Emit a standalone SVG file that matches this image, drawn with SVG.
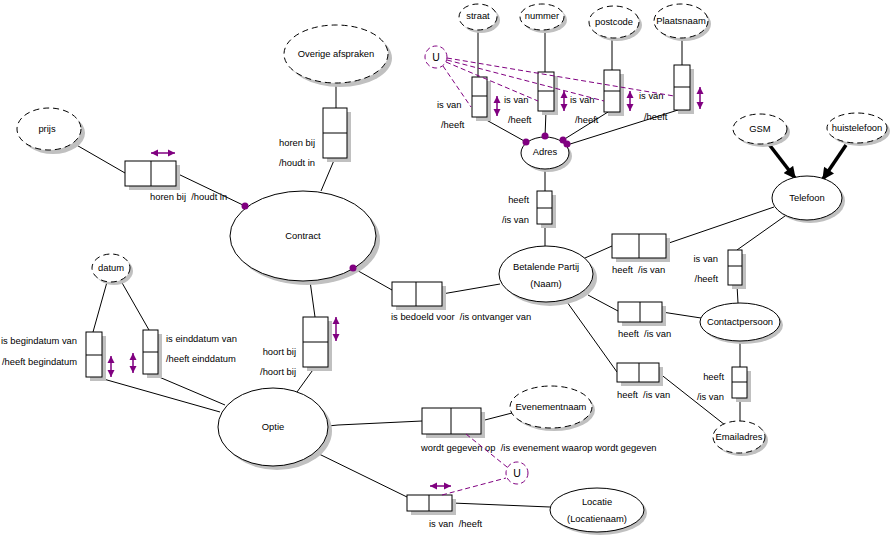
<svg xmlns="http://www.w3.org/2000/svg" width="894" height="540" viewBox="0 0 894 540">
<style>
.ent{fill:#fff;stroke:#000;stroke-width:1}
.val{fill:#fff;stroke:#000;stroke-width:1;stroke-dasharray:6 4}
.sh{fill:#c0c0c0;stroke:none}
.box{fill:#fff;stroke:#000;stroke-width:1}
.ln{stroke:#000;stroke-width:1;fill:none}
.t{font-family:"Liberation Sans",Arial,sans-serif;font-size:9.4px;fill:#000;white-space:pre}
.c{text-anchor:middle}
.e{text-anchor:end}
.pd{stroke:#800080;stroke-width:1;fill:none;stroke-dasharray:5 3}
.pa{stroke:#800080;stroke-width:1.5;marker-start:url(#pa);marker-end:url(#pa)}
.dot{fill:#800080}
.thick{stroke:#000;stroke-width:3.5;marker-end:url(#ta)}
</style>
<defs>
<marker id="pa" viewBox="0 0 10 10" refX="10" refY="5" markerUnits="userSpaceOnUse" markerWidth="7" markerHeight="8" orient="auto-start-reverse"><path d="M0,0 L10,5 L0,10 z" fill="#800080"/></marker>
<marker id="ta" viewBox="0 0 10 10" refX="9" refY="5" markerUnits="userSpaceOnUse" markerWidth="13" markerHeight="12" orient="auto"><path d="M0,0 L10,5 L0,10 z" fill="#000"/></marker>
</defs>
<rect width="894" height="540" fill="#fff"/>

<g id="connectors">
<line class="ln" x1="73" y1="143" x2="125" y2="173"/>
<line class="ln" x1="176" y1="173" x2="245" y2="206"/>
<line class="ln" x1="336" y1="83" x2="336" y2="108"/>
<line class="ln" x1="335" y1="158" x2="321" y2="191"/>
<line class="ln" x1="310" y1="281" x2="315" y2="317"/>
<line class="ln" x1="315" y1="367" x2="297" y2="392"/>
<line class="ln" x1="107" y1="282" x2="93" y2="332"/>
<line class="ln" x1="121" y1="281" x2="149" y2="330"/>
<line class="ln" x1="100" y1="378" x2="220" y2="412"/>
<line class="ln" x1="152" y1="374" x2="225" y2="405"/>
<line class="ln" x1="353" y1="268" x2="392" y2="290"/>
<line class="ln" x1="442" y1="294" x2="500" y2="284"/>
<line class="ln" x1="545" y1="169" x2="545" y2="191"/>
<line class="ln" x1="545" y1="224" x2="545" y2="246"/>
<line class="ln" x1="478" y1="30" x2="478" y2="77"/>
<line class="ln" x1="545" y1="30" x2="545" y2="72"/>
<line class="ln" x1="612" y1="38" x2="612" y2="70"/>
<line class="ln" x1="682" y1="38" x2="682" y2="65"/>
<line class="ln" x1="481" y1="117" x2="526" y2="142"/>
<line class="ln" x1="546" y1="111" x2="545" y2="137"/>
<line class="ln" x1="608" y1="112" x2="563" y2="140"/>
<line class="ln" x1="678" y1="110" x2="567" y2="145"/>
<line class="ln" x1="585" y1="258" x2="612" y2="246"/>
<line class="ln" x1="666" y1="244" x2="774" y2="207"/>
<line class="ln" x1="785" y1="216" x2="737" y2="250"/>
<line class="ln" x1="737" y1="285" x2="738" y2="303"/>
<line class="ln" x1="588" y1="295" x2="618" y2="311"/>
<line class="ln" x1="662" y1="312" x2="701" y2="318"/>
<line class="ln" x1="567" y1="302" x2="617" y2="372"/>
<line class="ln" x1="659" y1="373" x2="725" y2="425"/>
<line class="ln" x1="740" y1="341" x2="740" y2="367"/>
<line class="ln" x1="740" y1="398" x2="740" y2="421"/>
<polyline class="ln" points="328,426 338,425 422,421"/>
<line class="ln" x1="481" y1="421" x2="512" y2="413"/>
<line class="ln" x1="317" y1="453" x2="407" y2="497"/>
<line class="ln" x1="452" y1="503" x2="550" y2="507"/>
<line class="thick" x1="768" y1="143" x2="795" y2="178"/>
<line class="thick" x1="846" y1="145" x2="823" y2="179"/>
</g>

<g id="n-overige"><ellipse class="sh" cx="340" cy="58" rx="52" ry="29"/><ellipse class="val" cx="336" cy="54" rx="52" ry="29"/><text class="t c" x="336" y="57">Overige afspraken</text></g>
<g id="n-prijs"><ellipse class="sh" cx="53" cy="133" rx="32" ry="21"/><ellipse class="val" cx="49" cy="129" rx="32" ry="21"/><text class="t c" x="47" y="132">prijs</text></g>
<g id="n-contract"><ellipse class="sh" cx="307" cy="240" rx="73" ry="45"/><ellipse class="ent" cx="303" cy="236" rx="73" ry="45"/><text class="t c" x="303" y="239">Contract</text></g>
<g id="n-datum"><ellipse class="sh" cx="114" cy="271" rx="19" ry="14"/><ellipse class="val" cx="111" cy="268" rx="19" ry="14"/><text class="t c" x="111" y="271">datum</text></g>
<g id="n-optie"><ellipse class="sh" cx="277" cy="431" rx="55" ry="39"/><ellipse class="ent" cx="273" cy="427" rx="55" ry="39"/><text class="t c" x="273" y="430">Optie</text></g>
<g id="n-straat"><ellipse class="sh" cx="481" cy="20" rx="19" ry="13"/><ellipse class="val" cx="478" cy="17" rx="19" ry="13"/><text class="t c" x="478" y="19">straat</text></g>
<g id="n-nummer"><ellipse class="sh" cx="545" cy="20" rx="22" ry="13"/><ellipse class="val" cx="542" cy="17" rx="22" ry="13"/><text class="t c" x="542" y="19">nummer</text></g>
<g id="n-postcode"><ellipse class="sh" cx="617" cy="25" rx="25" ry="16"/><ellipse class="val" cx="614" cy="22" rx="25" ry="16"/><text class="t c" x="614" y="25">postcode</text></g>
<g id="n-plaatsnaam"><ellipse class="sh" cx="684" cy="24" rx="27" ry="17"/><ellipse class="val" cx="681" cy="21" rx="27" ry="17"/><text class="t c" x="681" y="24">Plaatsnaam</text></g>
<g id="n-adres"><ellipse class="sh" cx="548" cy="156" rx="24" ry="16"/><ellipse class="ent" cx="545" cy="153" rx="24" ry="16"/><text class="t c" x="545" y="155">Adres</text></g>
<g id="n-betalende"><ellipse class="sh" cx="550" cy="278" rx="47" ry="28"/><ellipse class="ent" cx="546" cy="274" rx="47" ry="28"/><text class="t c" x="546" y="270">Betalende Partij</text><text class="t c" x="546" y="287">(Naam)</text></g>
<g id="n-telefoon"><ellipse class="sh" cx="810" cy="201" rx="35" ry="22"/><ellipse class="ent" cx="807" cy="198" rx="35" ry="22"/><text class="t c" x="807" y="201">Telefoon</text></g>
<g id="n-gsm"><ellipse class="sh" cx="763" cy="132" rx="27" ry="15"/><ellipse class="val" cx="760" cy="129" rx="27" ry="15"/><text class="t c" x="760" y="132">GSM</text></g>
<g id="n-huistelefoon"><ellipse class="sh" cx="860" cy="131" rx="30" ry="15"/><ellipse class="val" cx="857" cy="128" rx="30" ry="15"/><text class="t c" x="857" y="131">huistelefoon</text></g>
<g id="n-contactpersoon"><ellipse class="sh" cx="743" cy="325" rx="40" ry="19"/><ellipse class="ent" cx="740" cy="322" rx="40" ry="19"/><text class="t c" x="740" y="325">Contactpersoon</text></g>
<g id="n-emailadres"><ellipse class="sh" cx="742" cy="440" rx="26" ry="16"/><ellipse class="val" cx="739" cy="437" rx="26" ry="16"/><text class="t c" x="739" y="440">Emailadres</text></g>
<g id="n-evenementnaam"><ellipse class="sh" cx="554" cy="410" rx="41" ry="21"/><ellipse class="val" cx="551" cy="407" rx="41" ry="21"/><text class="t c" x="551" y="410">Evenementnaam</text></g>
<g id="n-locatie"><ellipse class="sh" cx="600" cy="513" rx="47" ry="22"/><ellipse class="ent" cx="597" cy="510" rx="47" ry="22"/><text class="t c" x="597" y="505">Locatie</text><text class="t c" x="597" y="522">(Locatienaam)</text></g>

<g id="f-overige"><rect class="sh" x="327" y="112" width="24" height="50"/><rect class="box" x="323" y="108" width="24" height="50"/><line class="ln" x1="323" y1="133" x2="347" y2="133"/><text class="t" x="279" y="146">horen bij</text><text class="t" x="279" y="166">/houdt in</text></g>
<g id="f-prijs"><rect class="sh" x="129" y="165" width="51" height="25"/><rect class="box" x="125" y="161" width="51" height="25"/><line class="ln" x1="151" y1="161" x2="151" y2="186"/><text class="t" x="150" y="200" xml:space="preserve">horen bij  /houdt in</text></g>
<g id="f-hoortbij"><rect class="sh" x="307" y="321" width="25" height="50"/><rect class="box" x="303" y="317" width="25" height="50"/><line class="ln" x1="303" y1="342" x2="328" y2="342"/><text class="t e" x="296" y="355">hoort bij</text><text class="t e" x="296" y="375">/hoort bij</text></g>
<g id="f-begindatum"><rect class="sh" x="90" y="336" width="16" height="45"/><rect class="box" x="86" y="332" width="16" height="45"/><line class="ln" x1="86" y1="355" x2="102" y2="355"/><text class="t e" x="77" y="344">is begindatum van</text><text class="t e" x="77" y="365">/heeft begindatum</text></g>
<g id="f-einddatum"><rect class="sh" x="147" y="334" width="15" height="44"/><rect class="box" x="143" y="330" width="15" height="44"/><line class="ln" x1="143" y1="352" x2="158" y2="352"/><text class="t" x="166" y="342">is einddatum van</text><text class="t" x="166" y="362">/heeft einddatum</text></g>
<g id="f-straat"><rect class="sh" x="476" y="81" width="15" height="40"/><rect class="box" x="472" y="77" width="15" height="40"/><line class="ln" x1="472" y1="96" x2="487" y2="96"/><text class="t" x="437" y="108">is van</text><text class="t" x="441" y="128">/heeft</text></g>
<g id="f-nummer"><rect class="sh" x="542" y="76" width="16" height="39"/><rect class="box" x="538" y="72" width="16" height="39"/><line class="ln" x1="538" y1="91" x2="554" y2="91"/><text class="t" x="504" y="103">is van</text><text class="t" x="508" y="123">/heeft</text></g>
<g id="f-postcode"><rect class="sh" x="608" y="74" width="16" height="42"/><rect class="box" x="604" y="70" width="16" height="42"/><line class="ln" x1="604" y1="91" x2="620" y2="91"/><text class="t" x="570" y="103">is van</text><text class="t" x="575" y="123">/heeft</text></g>
<g id="f-plaatsnaam"><rect class="sh" x="678" y="69" width="16" height="45"/><rect class="box" x="674" y="65" width="16" height="45"/><line class="ln" x1="674" y1="87" x2="690" y2="87"/><text class="t" x="639" y="99">is van</text><text class="t" x="644" y="120">/heeft</text></g>
<g id="f-adres"><rect class="sh" x="541" y="195" width="15" height="33"/><rect class="box" x="537" y="191" width="15" height="33"/><line class="ln" x1="537" y1="208" x2="552" y2="208"/><text class="t e" x="529" y="203">heeft</text><text class="t e" x="529" y="223">/is van</text></g>
<g id="f-bedoeld"><rect class="sh" x="396" y="286" width="50" height="24"/><rect class="box" x="392" y="282" width="50" height="24"/><line class="ln" x1="416" y1="282" x2="416" y2="306"/><text class="t" x="391" y="320" xml:space="preserve">is bedoeld voor  /is ontvanger van</text></g>
<g id="f-telefoon"><rect class="sh" x="616" y="238" width="54" height="24"/><rect class="box" x="612" y="234" width="54" height="24"/><line class="ln" x1="639" y1="234" x2="639" y2="258"/><text class="t" x="612" y="273" xml:space="preserve">heeft  /is van</text></g>
<g id="f-telcontact"><rect class="sh" x="732" y="254" width="14" height="35"/><rect class="box" x="728" y="250" width="14" height="35"/><line class="ln" x1="728" y1="266" x2="742" y2="266"/><text class="t e" x="718" y="262">is van</text><text class="t e" x="718" y="282">/heeft</text></g>
<g id="f-contact"><rect class="sh" x="622" y="306" width="44" height="20"/><rect class="box" x="618" y="302" width="44" height="20"/><line class="ln" x1="640" y1="302" x2="640" y2="322"/><text class="t" x="618" y="337" xml:space="preserve">heeft  /is van</text></g>
<g id="f-email"><rect class="sh" x="621" y="367" width="42" height="19"/><rect class="box" x="617" y="363" width="42" height="19"/><line class="ln" x1="639" y1="363" x2="639" y2="382"/><text class="t" x="617" y="398" xml:space="preserve">heeft  /is van</text></g>
<g id="f-emailcontact"><rect class="sh" x="736" y="371" width="15" height="31"/><rect class="box" x="732" y="367" width="15" height="31"/><line class="ln" x1="732" y1="382" x2="747" y2="382"/><text class="t e" x="724" y="380">heeft</text><text class="t e" x="724" y="400">/is van</text></g>
<g id="f-wordt"><rect class="sh" x="426" y="412" width="59" height="26"/><rect class="box" x="422" y="408" width="59" height="26"/><line class="ln" x1="451" y1="408" x2="451" y2="434"/><text class="t" x="421" y="451" xml:space="preserve">wordt gegeven op  /is evenement waarop wordt gegeven</text></g>
<g id="f-locatie"><rect class="sh" x="411" y="499" width="45" height="16"/><rect class="box" x="407" y="495" width="45" height="16"/><line class="ln" x1="429" y1="495" x2="429" y2="511"/><text class="t" x="429" y="527" xml:space="preserve">is van  /heeft</text></g>

<g id="constraints">
<circle class="dot" cx="245" cy="206" r="3.5"/>
<circle class="dot" cx="353" cy="268" r="3.5"/>
<circle class="dot" cx="526" cy="142" r="3.5"/>
<circle class="dot" cx="545" cy="136" r="3.5"/>
<circle class="dot" cx="563" cy="140" r="3.5"/>
<circle class="dot" cx="567" cy="144" r="3.5"/>
<circle class="pd" cx="436" cy="57" r="11"/>
<text class="t c" x="436" y="61" style="font-size:10.5px">U</text>
<line class="pd" x1="443" y1="66" x2="471" y2="107"/>
<line class="pd" x1="446" y1="62" x2="538" y2="101"/>
<line class="pd" x1="447" y1="60" x2="604" y2="101"/>
<line class="pd" x1="447" y1="58" x2="674" y2="96"/>
<circle class="pd" cx="517" cy="473" r="11"/>
<text class="t c" x="517" y="477" style="font-size:10.5px">U</text>
<line class="pd" x1="466" y1="434" x2="507" y2="467"/>
<line class="pd" x1="442" y1="495" x2="506" y2="478"/>
<line class="pa" x1="151" y1="153" x2="175" y2="153"/>
<line class="pa" x1="336" y1="317" x2="336" y2="341"/>
<line class="pa" x1="111" y1="356" x2="111" y2="377"/>
<line class="pa" x1="133" y1="353" x2="133" y2="373"/>
<line class="pa" x1="497" y1="96" x2="497" y2="116"/>
<line class="pa" x1="564" y1="91" x2="564" y2="111"/>
<line class="pa" x1="630" y1="91" x2="630" y2="111"/>
<line class="pa" x1="700" y1="87" x2="700" y2="109"/>
<line class="pa" x1="430" y1="486" x2="451" y2="486"/>
</g>
</svg>
